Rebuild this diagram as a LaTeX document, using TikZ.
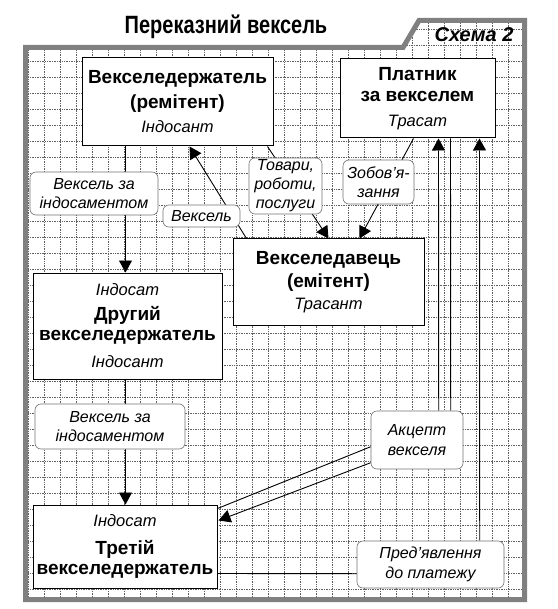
\documentclass[tikz,border=0pt]{standalone}
\usepackage{fontspec}
\setmainfont{Liberation Sans}
\usetikzlibrary{arrows.meta,calc}
\pgfdeclarelayer{bg}
\pgfsetlayers{bg,main}
\newcommand\roleit[1]{{\fontsize{16.5}{22}\selectfont\mdseries\itshape #1}}
\begin{document}
\begin{tikzpicture}[x=1pt,y=-1pt,
  box/.style={draw=black,line width=1pt,fill=white,inner sep=0pt,align=center,font=\fontsize{19}{22}\selectfont\bfseries},
  lab/.style={draw=black!55,line width=0.6pt,fill=white,rounded corners=6pt,inner sep=0pt,align=center,font=\fontsize{16}{19}\selectfont\itshape},
  conn/.style={line width=0.9pt,black},
  arr/.style={conn,-{Triangle[length=12pt,width=13pt]}},
  gridline/.style={black!62,line width=0.7pt,densely dotted},
  frame/.style={black!50,line width=5pt,line join=miter}
]
\useasboundingbox (0,0) rectangle (557,609);
% boxes
\node[box,minimum width=191pt,minimum height=88pt] (box1) at (177.5,102)
  {Векселедержатель\\[3pt](ремітент)\\[2pt]\roleit{Індосант}};
\node[box,minimum width=155pt,minimum height=79pt] (box2) at (417.5,98.5)
  {Платник\\[-1pt]за векселем\\[3pt]\roleit{Трасат}};
\node[box,minimum width=191pt,minimum height=86pt] (box3) at (328.5,282)
  {Векселедавець\\[1pt](емітент)\\\roleit{Трасант}};
\node[box,minimum width=189pt,minimum height=106pt] (box4) at (127.5,326)
  {\roleit{Індосат}\\[3pt]Другий\\[-2pt]векселедержатель\\[5pt]\roleit{Індосант}};
\node[box,minimum width=184pt,minimum height=83pt] (box5) at (125,546.5)
  {\roleit{Індосат}\\[6pt]Третій\\[-2pt]векселедержатель};
% labels
\node[lab,minimum width=128pt,minimum height=43pt] (L1) at (94,193.5) {Вексель за\\індосаментом};
\node[lab,minimum width=77pt,minimum height=22pt] (L2) at (201.5,216) {Вексель};
\node[lab,minimum width=73pt,minimum height=56pt] (L3) at (285.5,186) {Товари,\\роботи,\\послуги};
\node[lab,minimum width=71pt,minimum height=44pt] (L4) at (378.5,182) {Зобов'я-\\зання};
\node[lab,minimum width=150pt,minimum height=45pt] (L5) at (110,426.5) {Вексель за\\індосаментом};
\node[lab,minimum width=92pt,minimum height=58pt] (L6) at (417,440) {Акцепт\\[1pt]векселя};
\node[lab,minimum width=147pt,minimum height=47pt] (L7) at (430.5,564.5) {Пред'явлення\\[1pt]до платежу};
% title
\node[font=\fontsize{25}{25}\selectfont\bfseries] (title) at (226,27) {\scalebox{0.8}[1]{Переказний вексель}};
\node[font=\fontsize{20}{20}\selectfont\bfseries\itshape] (schema) at (474,35) {Схема 2};
\begin{pgfonlayer}{bg}
\fill[white] (0,0) rectangle (557,609);
\begin{scope}
\clip (25.5,47.5) -- (403,47.5) -- (419,20.5) -- (524.5,20.5) -- (524.5,599.5) -- (25.5,599.5) -- cycle;
\foreach \x in {28,44,...,524} \draw[gridline] (\x,18) -- (\x,602);
\foreach \y in {29,45,...,600} \draw[gridline] (23,\y) -- (527,\y);
\end{scope}
\draw[frame] (25.5,47.5) -- (403,47.5) -- (419,20.5) -- (524.5,20.5) -- (524.5,599.5) -- (25.5,599.5) -- cycle;
% connectors
\draw[arr] ($(box1.south west)+(44,0)$) -- ($(box4.north west)+(93,0)$);
\draw[arr] ($(box4.south west)+(93,0)$) -- ($(box5.north west)+(93,0)$);
\draw[arr] ($(box3.north west)+(14,0)$) -- ($(box1.south west)+(108,0)$);
\draw[arr] ($(box1.south west)+(186,0)$) -- ($(box3.north west)+(96,0)$);
\draw[arr] ($(box2.south west)+(74,0)$) -- ($(box3.north west)+(127,0)$);
\draw[arr] ($(L6.north west)+(68,0)$) -- ($(box2.south west)+(99,0)$);
\draw[conn] ($(L6.north west)+(80,0)$) -- ($(box2.south west)+(111,0)$);
\draw[conn] ($(L6.north west)+(0,36)$) -- ($(box5.north east)+(0,4)$);
\draw[arr] ($(L6.north west)+(0,52)$) -- ($(box5.north east)+(1,16)$);
\draw[conn] ($(box5.north east)+(0,69)$) -- ($(L7.north west)+(0,33)$);
\draw[arr] ($(L7.north west)+(123,0)$) -- ($(box2.south west)+(140,0)$);
\end{pgfonlayer}
\end{tikzpicture}
\end{document}
